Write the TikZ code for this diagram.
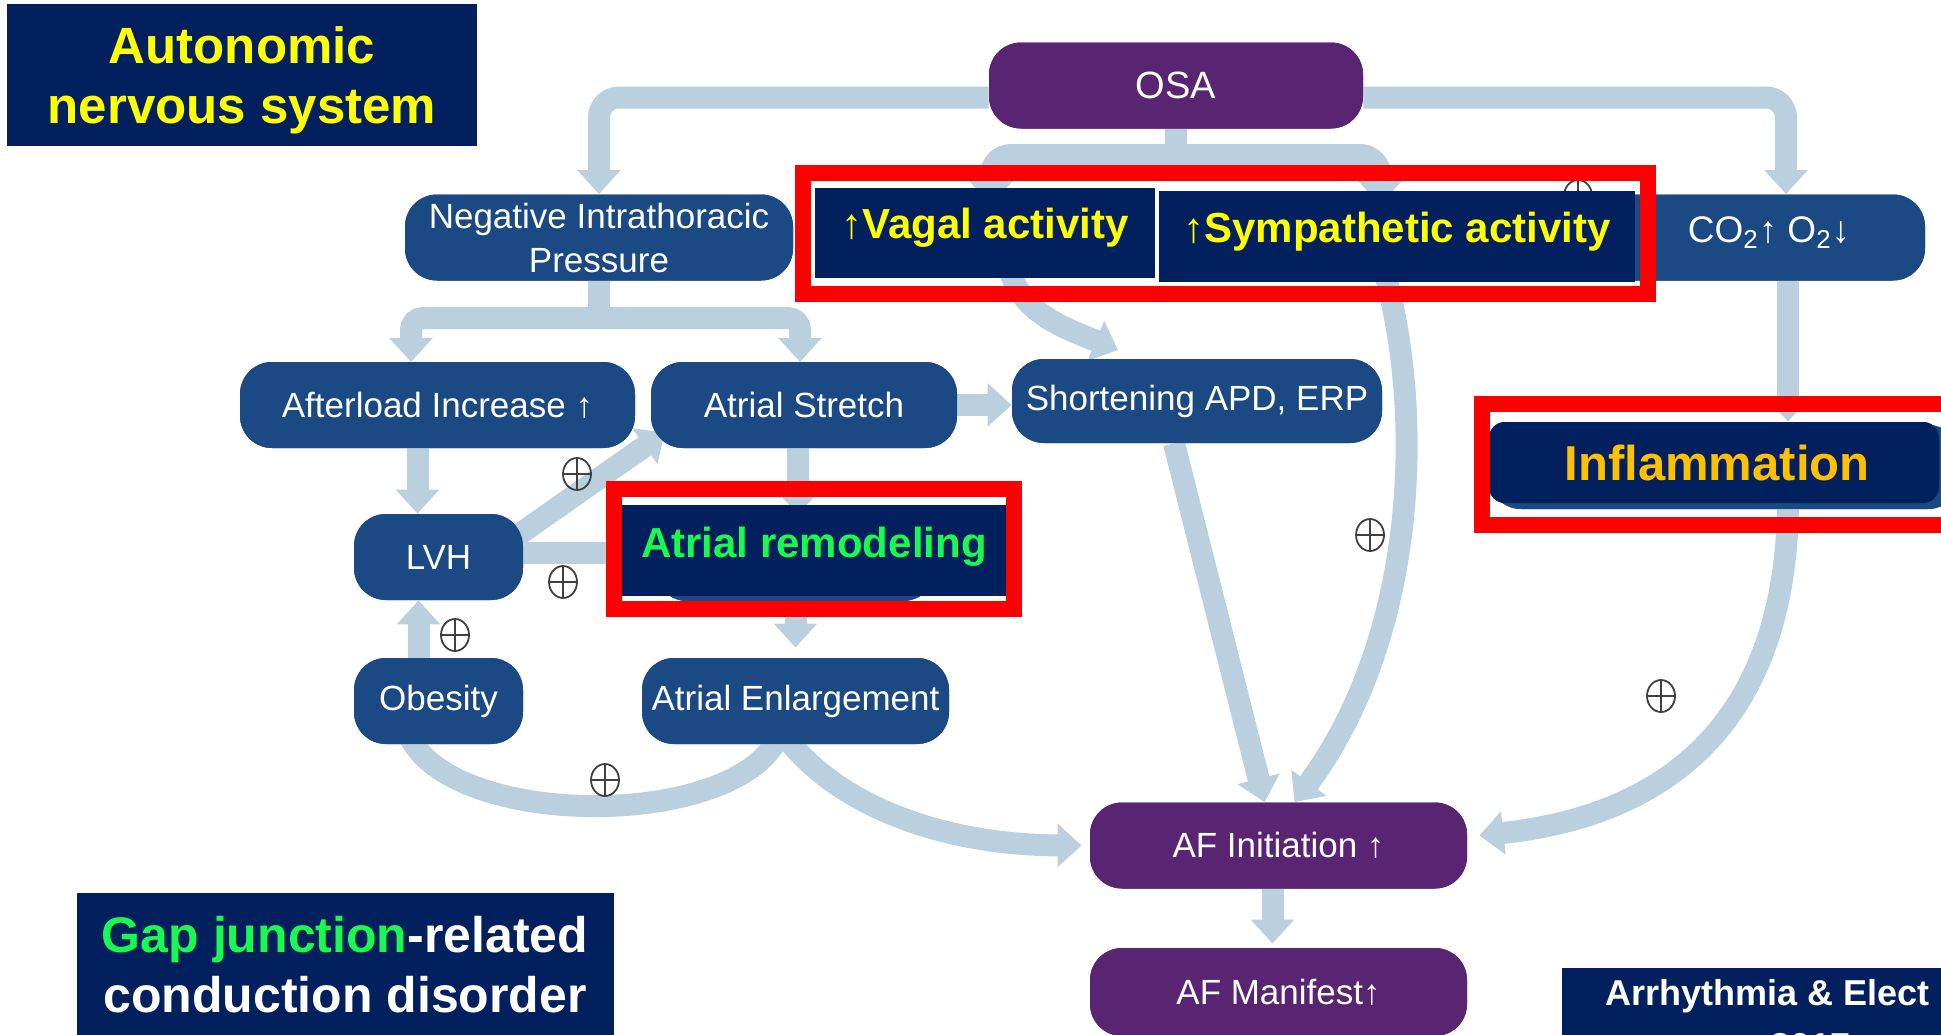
\documentclass[tikz,border=0pt]{standalone}
\usepackage{fontspec}
\setmainfont{Liberation Sans}
\usetikzlibrary{arrows.meta,shapes.geometric}
\definecolor{pillblue}{RGB}{27,73,131}
\definecolor{pillpurple}{RGB}{89,37,115}
\definecolor{conncol}{RGB}{186,208,222}
\definecolor{navy}{RGB}{2,32,94}
\definecolor{hiyellow}{RGB}{255,255,0}
\definecolor{higreen}{RGB}{25,250,80}
\definecolor{higold}{RGB}{255,192,0}
\definecolor{redframe}{RGB}{255,0,0}
\begin{document}
\begin{tikzpicture}[x=0.5pt,y=-0.5pt,
  conn/.style={draw=conncol,line width=11pt,-{Triangle[width=21pt,length=12pt]}},
  connplain/.style={draw=conncol,line width=11pt},
  pill/.style={fill=pillblue,rounded corners=16pt,inner sep=0pt,text=white,
    font=\fontsize{17.5}{22}\selectfont,minimum height=43pt},
  ppill/.style={pill,fill=pillpurple},
  navybox/.style={fill=navy,inner sep=0pt},
  redfr/.style={draw=redframe,line width=8pt,inner sep=0pt},
  oplus/.style={ellipse,draw=black!75,line width=0.9pt,minimum width=14pt,minimum height=16pt,inner sep=0pt,
    path picture={\draw[black!75,line width=0.9pt] (path picture bounding box.north) -- (path picture bounding box.south)
      (path picture bounding box.west) -- (path picture bounding box.east);}},
  bigtxt/.style={inner sep=0pt,anchor=base,font=\fontsize{25.5}{30}\selectfont\bfseries},
  midtxt/.style={inner sep=0pt,anchor=base,font=\fontsize{21}{25}\selectfont\bfseries}
]
\useasboundingbox (0,0) rectangle (1941,1034);
\clip (0,0) rectangle (1941,1034);
\fill[white] (0,0) rectangle (1941,1034);

% ---- pills (positions) ----
\path node[ppill,minimum width=187pt,font=\fontsize{19}{22}\selectfont] (osa) at (1176,85.5) {OSA};
\path node[pill,minimum width=194pt,align=center] (neg) at (599,237.5) {Negative Intrathoracic\\Pressure};
\path node[pill,minimum width=162.5pt] (co2) at (1762.5,237.5) {};
\path node[pill,minimum width=197.5pt] (afterload) at (437.5,405) {Afterload Increase ↑};
\path node[pill,minimum width=153pt] (stretch) at (804,405) {Atrial Stretch};
\path node[pill,minimum width=185pt,minimum height=42pt] (short) at (1197,401) {Shortening APD, ERP};
\path node[pill,minimum width=84.5pt] (lvh) at (438.5,557) {LVH};
\path node[pill,minimum width=84.5pt] (obesity) at (438.5,701) {Obesity};
\path node[pill,minimum width=153.5pt] (enlarge) at (795.5,701) {Atrial Enlargement};
\path node[ppill,minimum width=188.5pt] (afinit) at (1278.5,845.5) {AF Initiation ↑};
\path node[ppill,minimum width=188.5pt,minimum height=44pt] (afman) at (1278.5,992) {AF Manifest↑};
\path node[pill,minimum width=140pt] (remodpill) at (795,558) {};
\path node[pill,minimum width=235.5pt,minimum height=42pt] (inflpill) at (1724.5,467) {};
\path node[navybox,minimum width=170pt,minimum height=45pt] (vagbox) at (985,233) {};
\path node[navybox,minimum width=238pt,minimum height=45.5pt] (symbox) at (1397,236.5) {};
\path node[navybox,minimum width=197pt,minimum height=45.5pt] (remodbox) at (814,550.5) {};
\path node[navybox,rounded corners=8pt,minimum width=225pt,minimum height=40.5pt] (inflbox) at (1714,462.5) {};

% ---- connectors ----
\draw[conn,rounded corners=10pt] ([yshift=-6pt]osa.west) -| (neg.north);
\draw[conn,rounded corners=10pt] ([yshift=-6pt]osa.east) -| ([xshift=11.75pt]co2.north);
\coordinate (osabr) at (1176,155);
\coordinate (vagin) at (991,205);
\coordinate (symin) at (1380,205);
\draw[connplain] (osa.south) -- (osabr);
\draw[conn,rounded corners=10pt] (osabr) -| (vagin);
\draw[conn,rounded corners=10pt] (osabr) -| (symin);
\coordinate (negbr) at (599,318);
\coordinate (aftin) at (411,362);
\coordinate (strin) at (800,362);
\draw[connplain] (neg.south) -- (negbr);
\draw[conn,rounded corners=6pt] (negbr) -| (aftin);
\draw[conn,rounded corners=6pt] (negbr) -| (strin);
\draw[conn] (stretch.east) -- (stretch.east -| short.west);
\draw[conn] ([xshift=-10pt]afterload.south) -- ([xshift=-10pt]afterload.south |- lvh.north);
\draw[conn] ([xshift=-4pt,yshift=10pt]lvh.east) -- ([xshift=7pt,yshift=8pt]stretch.south west);
\draw[conn] ([yshift=2pt]lvh.east) -- ([yshift=2pt]lvh.east -| remodpill.west);
\draw[conn] ([xshift=-3pt]stretch.south) -- ([xshift=-3pt]stretch.south |- remodpill.north);
\draw[conn] (enlarge.north |- remodpill.south) -- ([yshift=5pt]enlarge.north);
\draw[conn] ([xshift=-10pt]obesity.north) -- ([xshift=-10pt]lvh.south);
\draw[connplain] ([xshift=-15pt,yshift=5pt]obesity.south) .. controls (450,830) and (740,830) .. ([xshift=-8pt,yshift=5pt]enlarge.south);
\draw[conn] ([xshift=-6pt,yshift=5pt]enlarge.south) .. controls (840,810) and (950,845) .. ([xshift=-4pt]afinit.west);
\coordinate (shortin) at (1118,350);
\draw[conn] ([xshift=12.5pt,yshift=4pt]vagbox.south) .. controls (1022,315) and (1070,330) .. (shortin);
\draw[conn] ([xshift=-6pt,yshift=4pt]symbox.south) .. controls (1425,420) and (1415,640) .. ([xshift=8pt]afinit.north);
\draw[conn] ([xshift=-11.5pt]short.south) -- ([xshift=-7pt]afinit.north);
\draw[conn] ([xshift=12.75pt]co2.south) -- ([xshift=12.75pt]co2.south |- inflbox.north);
\draw[conn] ([xshift=12.75pt]co2.south |- inflbox.south) .. controls (1786,720) and (1670,815) .. ([xshift=6pt,yshift=5pt]afinit.east);
\draw[conn] ([xshift=-3pt]afinit.south) -- ([xshift=-3pt,yshift=2pt]afman.north);

% ---- redraw pills on top of connectors ----
\node[ppill,minimum width=187pt,font=\fontsize{19}{22}\selectfont] at (osa) {OSA};
\node[pill,minimum width=194pt,align=center] at (neg) {Negative Intrathoracic\\Pressure};
\node[pill,minimum width=162.5pt] at (co2) {};
\node[pill,minimum width=197.5pt] at (afterload) {Afterload Increase ↑};
\node[pill,minimum width=153pt] at (stretch) {Atrial Stretch};
\node[pill,minimum width=185pt,minimum height=42pt] at (short) {Shortening APD, ERP};
\node[pill,minimum width=84.5pt] at (lvh) {LVH};
\node[pill,minimum width=84.5pt] at (obesity) {Obesity};
\node[pill,minimum width=153.5pt] at (enlarge) {Atrial Enlargement};
\node[ppill,minimum width=188.5pt] at (afinit) {AF Initiation ↑};
\node[ppill,minimum width=188.5pt,minimum height=44pt] at (afman) {AF Manifest↑};
\node[pill,minimum width=140pt] at (remodpill) {};
\node[pill,minimum width=235.5pt,minimum height=42pt] at (inflpill) {};
\node[inner sep=0pt,anchor=base,text=white,font=\fontsize{18.5}{22}\selectfont] (co2txt) at (1769,242) {CO\textsubscript{2}↑ O\textsubscript{2}↓};

% ---- plus signs ----
\node[oplus] (p1) at (1578,196) {};
\node[oplus] (p2) at (577,474) {};
\node[oplus] (p3) at (563,582) {};
\node[oplus] (p4) at (455,635) {};
\node[oplus] (p5) at (605,780) {};
\node[oplus] (p6) at (1370,535) {};
\node[oplus] (p7) at (1661,696) {};

% ---- overlay boxes ----
\node[navybox,minimum width=170pt,minimum height=45pt] at (vagbox) {};
\node[navybox,minimum width=238pt,minimum height=45.5pt] at (symbox) {};
\node[navybox,minimum width=197pt,minimum height=45.5pt] at (remodbox) {};
\node[navybox,rounded corners=8pt,minimum width=225pt,minimum height=40.5pt] at (inflbox) {};
\node[redfr,minimum width=422.5pt,minimum height=60.5pt] (frame1) at (1225.5,233.5) {};
\node[redfr,minimum width=254pt,minimum height=60.5pt] (frame2) at (1736,464.5) {};
\node[redfr,minimum width=200pt,minimum height=60pt] (frame3) at (814,549) {};

\node[midtxt,text=hiyellow] (vagtxt) at (985,238) {{\mdseries ↑}Vagal activity};
\node[midtxt,text=hiyellow] (symtxt) at (1397,242) {{\mdseries ↑}Sympathetic activity};
\node[midtxt,text=higreen] (remodtxt) at (814,557) {Atrial remodeling};
\node[inner sep=0pt,anchor=base,text=higold,font=\fontsize{24.5}{28}\selectfont\bfseries] (infltxt) at (1717,480) {Inflammation};

% ---- corner labels ----
\node[navybox,minimum width=235pt,minimum height=71pt] (anbox) at (242,75) {};
\node[bigtxt,text=hiyellow] (an1) at (242,63) {Autonomic};
\node[bigtxt,text=hiyellow] (an2) at (242,123) {nervous system};
\node[navybox,minimum width=268.5pt,minimum height=78.5pt] (gapbox) at (345.5,971.5) {};
\node[bigtxt,text=white,font=\fontsize{25}{30}\selectfont\bfseries] (gap1) at (345,952) {\textcolor{higreen}{Gap junction}-related};
\node[bigtxt,text=white,font=\fontsize{25}{30}\selectfont\bfseries] (gap2) at (345,1012) {conduction disorder};
\node[navybox,minimum width=199pt,minimum height=46pt] (arrbox) at (1761,1014) {};
\node[inner sep=0pt,anchor=base west,text=white,font=\fontsize{18}{22}\selectfont\bfseries] (arr1) at (1605,1005) {Arrhythmia \& Elect};
\node[inner sep=0pt,anchor=base west,text=white,font=\fontsize{18}{22}\selectfont\bfseries] (arr2) at (1770,1058) {2017};
\end{tikzpicture}
\end{document}
